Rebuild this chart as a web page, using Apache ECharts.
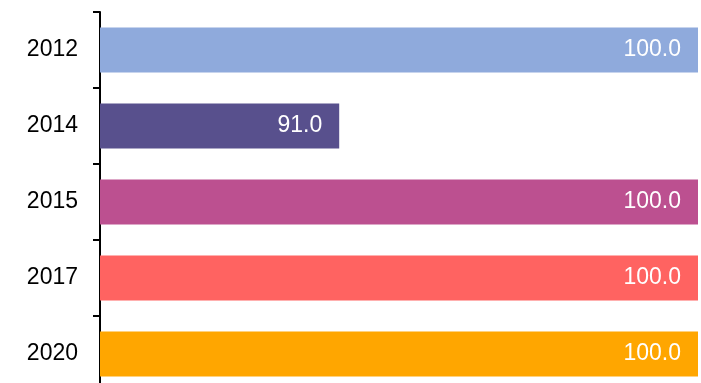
<!DOCTYPE html>
<html>
<head>
<meta charset="utf-8">
<script src="https://cdn.jsdelivr.net/npm/echarts@6/dist/echarts.min.js"></script>
<style>html,body{margin:0;padding:0;background:#fff;}#c{width:701px;height:383px;}</style>
</head>
<body>
<div id="c"></div>
<script>
var categories = ['2012', '2014', '2015', '2017', '2020'];
var values = [100.0, 91.0, 100.0, 100.0, 100.0];
var colors = ['#8FAADC', '#58508D', '#BC5090', '#FF6361', '#FFA600'];

var chart = echarts.init(document.getElementById('c'), null, {renderer: 'canvas'});
chart.setOption({
  animation: false,
  backgroundColor: '#ffffff',
  grid: {left: 100, width: 598, top: 12, height: 380, containLabel: false, outerBoundsMode: 'none'},
  xAxis: {
    type: 'value', min: 85, max: 100,
    show: false
  },
  yAxis: {
    type: 'category',
    data: categories,
    inverse: true,
    axisLine: {show: true, lineStyle: {color: '#000', width: 2}},
    axisTick: {show: true, length: 7, lineStyle: {color: '#000', width: 2}},
    axisLabel: {margin: 22, color: '#000', fontSize: 23, fontFamily: 'Liberation Sans, Arial, sans-serif'},
    splitLine: {show: false}
  },
  series: [{
    type: 'bar',
    barWidth: 45,
    data: values.map(function (v, i) { return {value: v, itemStyle: {color: colors[i]}}; }),
    label: {
      show: true,
      position: 'insideRight',
      distance: 17,
      color: '#fff',
      fontSize: 23,
      fontFamily: 'Liberation Sans, Arial, sans-serif',
      formatter: function (p) { return p.value.toFixed(1); }
    }
  }]
});
</script>
</body>
</html>
